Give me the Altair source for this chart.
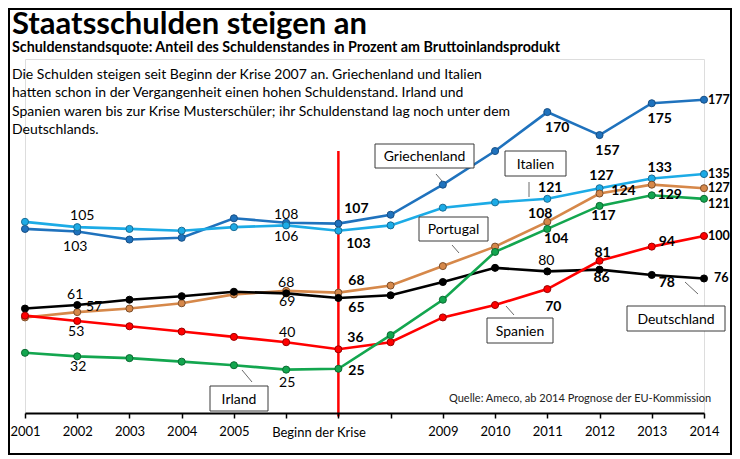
import altair as alt
import pandas as pd

# ---------------- data ----------------
years = list(range(2001, 2015))
countries = ["Griechenland", "Italien", "Portugal", "Deutschland", "Spanien", "Irland"]

griechenland = [104, 102.5, 98, 99, 110, 107.5, 107, 112, 129, 148, 170, 157, 175, 177]
italien = [108, 105, 104, 103, 105, 106, 103, 106, 116, 119, 121, 127, 132.5, 135]
portugal = [54, 57, 59, 62, 67, 69, 68, 72, 83, 94, 108, 124, 129, 127]
deutschland = [59, 61, 64, 66, 68.5, 67.6, 65, 66.5, 74, 82, 80, 81, 78, 76]
spanien = [55, 52, 49, 46, 43, 40, 36, 40, 54, 61, 70, 86, 94, 100]
irland = [34, 32, 31, 29, 27, 24.5, 25, 44, 64, 91, 104, 117, 123, 121]

series = {
    "Griechenland": griechenland,
    "Italien": italien,
    "Portugal": portugal,
    "Deutschland": deutschland,
    "Spanien": spanien,
    "Irland": irland,
}

# value labels: (year, text, bold)
labels = {
    "Griechenland": [(2002, "103", False), (2006, "108", False), (2007, "107", True),
                     (2011, "170", True), (2012, "157", True), (2013, "175", True), (2014, "177", True)],
    "Italien": [(2002, "105", False), (2006, "106", False), (2007, "103", True),
                (2011, "121", True), (2012, "127", True), (2013, "133", True), (2014, "135", True)],
    "Portugal": [(2002, "57", False), (2006, "68", False), (2007, "68", True),
                 (2011, "108", True), (2012, "124", True), (2013, "129", True), (2014, "127", True)],
    "Deutschland": [(2002, "61", False), (2006, "69", False), (2007, "65", True),
                    (2011, "80", False), (2012, "86", True), (2013, "78", True), (2014, "76", True)],
    "Spanien": [(2002, "53", False), (2006, "40", False), (2007, "36", True),
                (2011, "70", True), (2012, "81", True), (2013, "94", True), (2014, "100", True)],
    "Irland": [(2002, "32", False), (2006, "25", False), (2007, "25", True),
               (2011, "104", True), (2012, "117", True), (2014, "121", True)],
}

crisis_year = 2007
x_tick_labels = {2006: "Beginn der Krise"}

# ---------------- styles ----------------
line_colors = ["#1F72BD", "#1CABE6", "#D6884A", "#000000", "#FF0000", "#13A64F"]
point_strokes = ["#174f85", "#1a6d96", "#7d4e2a", "#000000", "#9a0000", "#0c6a32"]

# pixel offsets of value labels (dx, dy, align)
label_offsets = {
    ("Griechenland", 2002): (-2, 15, "center"), ("Griechenland", 2006): (0, -8, "center"),
    ("Griechenland", 2007): (18, -15, "center"), ("Griechenland", 2011): (10, 16, "center"),
    ("Griechenland", 2012): (8, 16, "center"), ("Griechenland", 2013): (8, 16, "center"),
    ("Griechenland", 2014): (4, 0, "left"),
    ("Italien", 2002): (5, -11, "center"), ("Italien", 2006): (0, 12, "center"),
    ("Italien", 2007): (20, 13, "center"), ("Italien", 2011): (3, -11, "center"),
    ("Italien", 2012): (2, -12, "center"), ("Italien", 2013): (8, -10, "center"),
    ("Italien", 2014): (4, 0, "left"),
    ("Portugal", 2002): (17, -5, "center"), ("Portugal", 2006): (0, -8, "center"),
    ("Portugal", 2007): (18, -12, "center"), ("Portugal", 2011): (-7, -8, "center"),
    ("Portugal", 2012): (24, -3, "center"), ("Portugal", 2013): (18, 10, "center"),
    ("Portugal", 2014): (4, 0, "left"),
    ("Deutschland", 2002): (-2, -10, "center"), ("Deutschland", 2006): (1, 9, "center"),
    ("Deutschland", 2007): (18, 10, "center"), ("Deutschland", 2011): (-1, -10, "center"),
    ("Deutschland", 2012): (2, 8, "center"), ("Deutschland", 2013): (15, 8, "center"),
    ("Deutschland", 2014): (10, 0, "left"),
    ("Spanien", 2002): (-1, 11, "center"), ("Spanien", 2006): (1, -9, "center"),
    ("Spanien", 2007): (17, -11, "center"), ("Spanien", 2011): (6, 18, "center"),
    ("Spanien", 2012): (3, -8, "center"), ("Spanien", 2013): (15, -5, "center"),
    ("Spanien", 2014): (4, 0, "left"),
    ("Irland", 2002): (1, 11, "center"), ("Irland", 2006): (1, 13, "center"),
    ("Irland", 2007): (18, 2, "center"), ("Irland", 2011): (9, 10, "center"),
    ("Irland", 2012): (4, 10, "center"), ("Irland", 2014): (4, 5, "left"),
}

FONT = "Lato"
W, H = 679, 354

# ---------------- tables ----------------
rows = []
for c in countries:
    for y, v in zip(years, series[c]):
        rows.append({"country": c, "year": y, "value": v})
df = pd.DataFrame(rows)

xscale = alt.Scale(domain=[2001, 2014], nice=False, zero=False)
yscale = alt.Scale(domain=[0, 200], nice=False)

frame = alt.Chart(pd.DataFrame({"t": [0]})).mark_rect(
    fill=None, stroke="black", strokeWidth=2
).encode(x=alt.value(-16), x2=alt.value(706), y=alt.value(-50), y2=alt.value(395))

base = alt.Chart(df)

lines = base.mark_line(strokeWidth=2.6).encode(
    x=alt.X("year:Q", scale=xscale,
            axis=alt.Axis(values=years, format="d", title=None, grid=False,
                          labelExpr="(datum.value >= 2006 && datum.value <= 2008) ? '' : datum.label",
                          labelFlush=False, labelOverlap=False, zindex=1,
                          domainColor="black", domainWidth=2, tickColor="black",
                          tickWidth=1.5, tickSize=5, labelFontSize=13, labelColor="black",
                          labelPadding=7, labelFont=FONT)),
    y=alt.Y("value:Q", scale=yscale, axis=None),
    color=alt.Color("country:N", scale=alt.Scale(domain=countries, range=line_colors), legend=None),
    detail="country:N",
)

rule = alt.Chart(pd.DataFrame({"year": [crisis_year]})).mark_rule(
    color="#FF0000", strokeWidth=2.5
).encode(
    x=alt.X("year:Q", scale=xscale),
    y=alt.datum(148),
    y2=alt.datum(-2),
)

points = base.mark_point(filled=True, size=50, strokeWidth=1, opacity=1).encode(
    x=alt.X("year:Q", scale=xscale),
    y=alt.Y("value:Q", scale=yscale),
    fill=alt.Fill("country:N", scale=alt.Scale(domain=countries, range=line_colors), legend=None),
    stroke=alt.Stroke("country:N", scale=alt.Scale(domain=countries, range=point_strokes), legend=None),
)

label_layers = []
for c in countries:
    vals = dict(zip(years, series[c]))
    for (yr, t, b) in labels[c]:
        dx, dy, al = label_offsets[(c, yr)]
        label_layers.append(
            alt.Chart(pd.DataFrame({"year": [yr], "value": [vals[yr]], "text": [t]})).mark_text(
                font=FONT, fontSize=12.5 if al == "left" else 14,
                fontWeight="bold" if b else "normal",
                align=al, baseline="middle", color="black", dx=dx, dy=dy
            ).encode(
                x=alt.X("year:Q", scale=xscale),
                y=alt.Y("value:Q", scale=yscale),
                text="text:N",
            )
        )

# x tick label spanning the crisis start
krise = alt.Chart(pd.DataFrame({"year": list(x_tick_labels.keys()),
                                "text": list(x_tick_labels.values())})).mark_text(
    font=FONT, fontSize=13, align="left", baseline="middle", color="black", dx=-14
).encode(x=alt.X("year:Q", scale=xscale), y=alt.value(H + 20), text="text:N")

# ---------------- annotations ----------------
ann = []

def txt(s, x, y, size, weight="normal", align="left", baseline="alphabetic", color="black"):
    ann.append(alt.Chart(pd.DataFrame({"t": [s]})).mark_text(
        font=FONT, fontSize=size, fontWeight=weight, align=align, baseline=baseline, color=color
    ).encode(x=alt.value(x), y=alt.value(y), text="t:N"))

def box(s, x1, y1, x2, y2):
    ann.append(alt.Chart(pd.DataFrame({"t": [s]})).mark_rect(
        fill="white", stroke="#3a3a3a", strokeWidth=1
    ).encode(x=alt.value(x1), x2=alt.value(x2), y=alt.value(y1), y2=alt.value(y2)))
    txt(s, (x1 + x2) / 2, (y1 + y2) / 2 + 1, 14, align="center", baseline="middle")

def leader(x1, y1, x2, y2):
    ann.append(alt.Chart(pd.DataFrame({"t": [0]})).mark_rule(
        color="#444444", strokeWidth=0.8
    ).encode(x=alt.value(x1), x2=alt.value(x2), y=alt.value(y1), y2=alt.value(y2)))

title = "Staatsschulden steigen an"
subtitle = "Schuldenstandsquote: Anteil des Schuldenstandes in Prozent am Bruttoinlandsprodukt"
body = [
    "Die Schulden steigen seit Beginn der Krise 2007 an. Griechenland und Italien",
    "hatten schon in der Vergangenheit einen hohen Schuldenstand. Irland und",
    "Spanien waren bis zur Krise Musterschüler; ihr Schuldenstand lag noch unter dem",
    "Deutschlands.",
]
source = "Quelle: Ameco, ab 2014 Prognose der EU-Kommission"

txt(title, -13, -25, 31, weight="bold")
txt(subtitle, -13, -7, 14.3, weight="bold")
for i, line in enumerate(body):
    txt(line, -13, 20 + 18.3 * i, 14)
txt(source, 424, 343, 11, color="#222222")

box("Griechenland", 350, 85, 449, 109)
leader(411, 115, 417, 122)
box("Italien", 480, 92, 541, 117)
leader(504, 123, 504, 138)
box("Portugal", 394, 158, 463, 182)
leader(427, 186, 434, 194)
box("Spanien", 462, 259, 528, 284)
leader(481, 247, 489, 256)
box("Deutschland", 602, 247, 700, 272)
leader(660, 223, 673, 235)
box("Irland", 185, 327, 243, 352)
leader(217, 311, 227, 323)

chart = alt.layer(
    frame, lines, rule, points, *label_layers, krise, *ann
).properties(
    width=W, height=H,
    autosize=alt.AutoSizeParams(type="none"),
    padding={"left": 17, "top": 51, "right": 28, "bottom": 42},
).configure_view(stroke=None).configure(font=FONT)

chart.save("out.html", embed_options={"renderer": "svg", "actions": False})
